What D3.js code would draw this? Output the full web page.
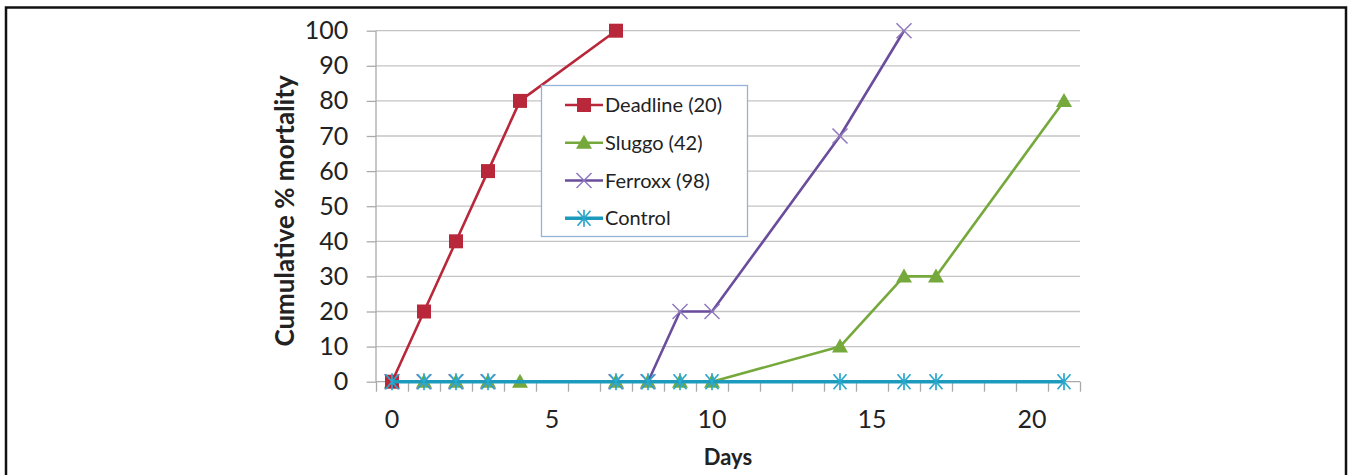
<!DOCTYPE html>
<html>
<head>
<meta charset="utf-8">
<script src="https://cdn.jsdelivr.net/npm/d3@7"></script>
<style>
  body { margin: 0; background: #fff; }
  svg text { font-family: Lato, "Open Sans", sans-serif; fill: #222; }
</style>
</head>
<body>
<svg id="chart" width="1348" height="475"></svg>
<script>
const width = 1348, height = 475;

// data
var seriesNames = ["Deadline (20)", "Sluggo (42)", "Ferroxx (98)", "Control"];
var deadlineDays = [0, 1, 2, 3, 4, 7];
var deadlineVals = [0, 20, 40, 60, 80, 100];
var sluggoDays = [0, 1, 2, 3, 4, 7, 8, 9, 10, 14, 16, 17, 21];
var sluggoVals = [0, 0, 0, 0, 0, 0, 0, 0, 0, 10, 30, 30, 80];
var ferroxxDays = [0, 1, 2, 3, 7, 8, 9, 10, 14, 16];
var ferroxxVals = [0, 0, 0, 0, 0, 0, 20, 20, 70, 100];
var controlDays = [0, 1, 2, 3, 7, 8, 9, 10, 14, 16, 17, 21];
var controlVals = [0, 0, 0, 0, 0, 0, 0, 0, 0, 0, 0, 0];
var yTicks = [0, 10, 20, 30, 40, 50, 60, 70, 80, 90, 100];
var xLabels = [0, 5, 10, 15, 20];

var colors = ["#b9283a", "#76a93c", "#6a4d9c", "#1c9bbf"];
var markers = ["square", "triangle", "cross", "star"];

var svg = d3.select("#chart");

// outer frame
svg.append("rect")
    .attr("x", 6).attr("y", 7.5)
    .attr("width", 1340).attr("height", 480)
    .attr("fill", "none").attr("stroke", "#111").attr("stroke-width", 2.5);

var plotLeft = 376, plotRight = 1080, plotTop = 30.7, plotBottom = 381.7;
var xScale = d3.scaleLinear().domain([-0.5, 21.5]).range([plotLeft, plotRight]);
var yScale = d3.scaleLinear().domain([0, 100]).range([plotBottom, plotTop]);

// gridlines
svg.append("g").selectAll("line")
    .data(yTicks.filter(d => d > 0))
    .enter().append("line")
    .attr("x1", plotLeft).attr("x2", plotRight)
    .attr("y1", d => yScale(d)).attr("y2", d => yScale(d))
    .attr("stroke", "#c4c4c4").attr("stroke-width", 1.3);

// y axis
var yAxis = d3.axisLeft(yScale).tickValues(yTicks).tickSize(9.3).tickPadding(18.5);
var gy = svg.append("g")
    .attr("transform", "translate(" + plotLeft + ",0)")
    .call(yAxis);
gy.selectAll("line, path").attr("stroke", "#aaa").attr("stroke-width", 1.3);
gy.select(".domain").attr("d", "M0," + plotBottom + "V" + plotTop);
gy.selectAll("text").attr("font-size", 25).attr("fill", "#222")
    .style("font-family", "Lato, sans-serif");

// x axis: minor ticks between days, labels every 5
var tickDays = d3.range(-0.5, 21.6, 1);
var xAxis = d3.axisBottom(xScale).tickValues(tickDays).tickSize(10).tickFormat("");
var gx = svg.append("g")
    .attr("transform", "translate(0," + plotBottom + ")")
    .call(xAxis);
gx.selectAll("line, path").attr("stroke", "#aaa").attr("stroke-width", 1.3);
gx.select(".domain").attr("d", "M" + plotLeft + ",0H" + plotRight);

svg.append("g").selectAll("text")
    .data(xLabels)
    .enter().append("text")
    .attr("x", d => xScale(d))
    .attr("y", 428)
    .attr("text-anchor", "middle")
    .attr("font-size", 25)
    .text(d => d);

svg.append("text")
    .attr("x", 728).attr("y", 465)
    .attr("text-anchor", "middle")
    .attr("font-size", 22).attr("font-weight", "bold")
    .text("Days");

svg.append("text")
    .attr("transform", "translate(294,211) rotate(-90)")
    .attr("text-anchor", "middle")
    .attr("font-size", 26).attr("font-weight", "bold")
    .text("Cumulative % mortality");

// markers
function drawMarker(g, type, color, cx, cy) {
    if (type == "square") {
        g.append("rect").attr("x", cx - 7).attr("y", cy - 7)
            .attr("width", 14).attr("height", 14).attr("fill", color);
    } else if (type == "triangle") {
        g.append("path")
            .attr("d", "M" + cx + "," + (cy - 8) + "L" + (cx + 8) + "," + (cy + 6) + "L" + (cx - 8) + "," + (cy + 6) + "Z")
            .attr("fill", color);
    } else if (type == "cross") {
        g.append("path")
            .attr("d", "M" + (cx - 7.5) + "," + (cy - 7.5) + "L" + (cx + 7.5) + "," + (cy + 7.5) +
                "M" + (cx + 7.5) + "," + (cy - 7.5) + "L" + (cx - 7.5) + "," + (cy + 7.5))
            .attr("stroke", "#8f78bd").attr("stroke-width", 1.5).attr("fill", "none");
    } else {
        g.append("path")
            .attr("d", "M" + (cx - 6.5) + "," + (cy - 7.5) + "L" + (cx + 6.5) + "," + (cy + 7.5) +
                "M" + (cx + 6.5) + "," + (cy - 7.5) + "L" + (cx - 6.5) + "," + (cy + 7.5) +
                "M" + cx + "," + (cy - 8.5) + "V" + (cy + 8.5))
            .attr("stroke", "#2aa8cc").attr("stroke-width", 1.7).attr("fill", "none");
    }
}

var allDays = [deadlineDays, sluggoDays, ferroxxDays, controlDays];
var allVals = [deadlineVals, sluggoVals, ferroxxVals, controlVals];
var lineWidths = [2.6, 2.6, 2.6, 3.6];

var line = d3.line().x(d => xScale(d[0])).y(d => yScale(d[1]));

var order = [1, 2, 0, 3];
order.forEach(function (s) {
    var pts = allDays[s].map((d, i) => [d, allVals[s][i]]);
    var g = svg.append("g");
    g.append("path").datum(pts)
        .attr("d", line)
        .attr("fill", "none")
        .attr("stroke", colors[s])
        .attr("stroke-width", lineWidths[s])
        .attr("stroke-linejoin", "round");
    pts.forEach(p => drawMarker(g, markers[s], colors[s], xScale(p[0]), yScale(p[1])));
});

// legend
var legend = svg.append("g");
legend.append("rect")
    .attr("x", 541.5).attr("y", 85.5)
    .attr("width", 206).attr("height", 151)
    .attr("fill", "#fff").attr("stroke", "#95b3d7").attr("stroke-width", 1.3);

var legendY = d3.scalePoint().domain(seriesNames).range([105, 218.3]);
seriesNames.forEach(function (name, s) {
    var y = legendY(name);
    legend.append("line")
        .attr("x1", 565).attr("x2", 603)
        .attr("y1", y).attr("y2", y)
        .attr("stroke", colors[s]).attr("stroke-width", lineWidths[s]);
    drawMarker(legend, markers[s], colors[s], 584, y);
    legend.append("text")
        .attr("x", 605).attr("y", y + 7)
        .attr("font-size", 20)
        .text(name);
});
</script>
</body>
</html>
